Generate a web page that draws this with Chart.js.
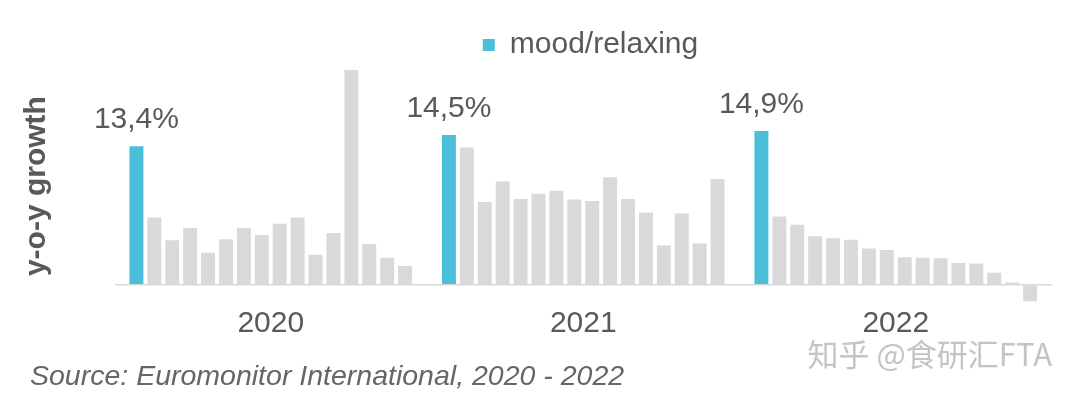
<!DOCTYPE html>
<html lang="en">
<head>
    <meta charset="UTF-8">
    <meta name="viewport" content="width=device-width, initial-scale=1.0">
    <title>mood/relaxing y-o-y growth</title>
    <script src="https://cdn.jsdelivr.net/npm/chart.js"></script>
    <style>
        html, body { margin: 0; padding: 0; background: #fff; }
        #wrap { width: 1080px; height: 399px; }
    </style>
</head>
<body>
<div id="wrap"><canvas id="growthChart"></canvas></div>

<script>
    const years = ['2020', '2021', '2022'];
    const highlightLabel = 'mood/relaxing';
    // first value of each year = mood/relaxing, the rest = other need states
    const growth2020 = [13.4, 6.5, 4.3, 5.5, 3.1, 4.4, 5.5, 4.8, 5.9, 6.5, 2.9, 5.0, 20.8, 3.95, 2.6, 1.8];
    const growth2021 = [14.5, 13.3, 8.0, 10.0, 8.3, 8.8, 9.1, 8.25, 8.1, 10.4, 8.3, 7.0, 3.8, 6.9, 4.0, 10.25];
    const growth2022 = [14.9, 6.6, 5.8, 4.7, 4.5, 4.35, 3.5, 3.35, 2.65, 2.6, 2.55, 2.1, 2.05, 1.15, 0.2, -1.6];

    const BLUE = '#4bbfda';
    const GREY = '#d9d9d9';
    const TEXT = '#595959';

    function buildDatasets() {
        const datasets = [];
        for (let k = 0; k < growth2020.length; k++) {
            datasets.push({
                label: k === 0 ? highlightLabel : 'other ' + k,
                data: [growth2020[k], growth2021[k], growth2022[k]],
                backgroundColor: k === 0 ? BLUE : GREY,
                borderWidth: 0,
                categoryPercentage: 0.917,
                barPercentage: 0.78
            });
        }
        return datasets;
    }

    function formatPct(v) {
        return v.toFixed(1).replace('.', ',') + '%';
    }

    // labels above the blue bars + watermark
    const extras = {
        id: 'extras',
        afterLayout(chart) {
            // legend sits a bit right of centre in the original
            chart.legend.left = 129;
        },
        afterDatasetsDraw(chart) {
            const ctx = chart.ctx;
            const meta = chart.getDatasetMeta(0);
            ctx.save();
            ctx.font = '30px "Liberation Sans", Arial, sans-serif';
            ctx.fillStyle = TEXT;
            ctx.textAlign = 'center';
            ctx.textBaseline = 'alphabetic';
            meta.data.forEach((bar, i) => {
                ctx.fillText(formatPct(chart.data.datasets[0].data[i]), bar.x, bar.y - 18);
            });
            ctx.restore();
        },
        afterDraw(chart) {
            const ctx = chart.ctx;
            ctx.save();
            ctx.font = '31px "Noto Sans CJK SC", sans-serif';
            ctx.fillStyle = '#c4c4c4';
            ctx.textAlign = 'right';
            ctx.textBaseline = 'middle';
            ctx.fillText('知乎 @食研汇FTA', chart.chartArea.right, 354);
            ctx.restore();
        }
    };

    const ctx = document.getElementById('growthChart').getContext('2d');
    new Chart(ctx, {
        type: 'bar',
        data: {
            labels: years,
            datasets: buildDatasets()
        },
        options: {
            responsive: true,
            maintainAspectRatio: false,
            animation: false,
            layout: {
                padding: { top: 20, left: 30, right: 28, bottom: 0 }
            },
            plugins: {
                legend: {
                    position: 'top',
                    labels: {
                        boxWidth: 12,
                        boxHeight: 12,
                        padding: 10,
                        color: TEXT,
                        font: { size: 30, lineHeight: 1, family: '"Liberation Sans", Arial, sans-serif' },
                        filter: item => item.datasetIndex === 0
                    }
                },
                tooltip: { enabled: false },
                subtitle: {
                    display: true,
                    position: 'bottom',
                    align: 'start',
                    text: 'Source: Euromonitor International, 2020 - 2022',
                    color: '#666666',
                    font: { size: 28.5, style: 'italic', family: '"Liberation Sans", Arial, sans-serif' },
                    padding: { top: 13.6, bottom: 5 }
                }
            },
            scales: {
                x: {
                    grid: { display: false, drawTicks: false },
                    border: { display: false },
                    ticks: {
                        color: TEXT,
                        padding: 4,
                        font: { size: 30, family: '"Liberation Sans", Arial, sans-serif' }
                    }
                },
                y: {
                    min: -1.7,
                    max: 20.8,
                    afterFit(scale) { scale.width = 84.5; },
                    border: { display: false },
                    grid: {
                        drawTicks: false,
                        lineWidth: 1.5,
                        color: c => (c.tick && c.tick.value === 0) ? GREY : 'rgba(0,0,0,0)'
                    },
                    ticks: { display: false },
                    title: {
                        display: true,
                        text: 'y-o-y growth',
                        color: TEXT,
                        padding: { top: 1, bottom: 0 },
                        font: { size: 30, weight: 'bold', lineHeight: 0.4, family: '"Liberation Sans", Arial, sans-serif' }
                    }
                }
            }
        },
        plugins: [extras]
    });
</script>
</body>
</html>
